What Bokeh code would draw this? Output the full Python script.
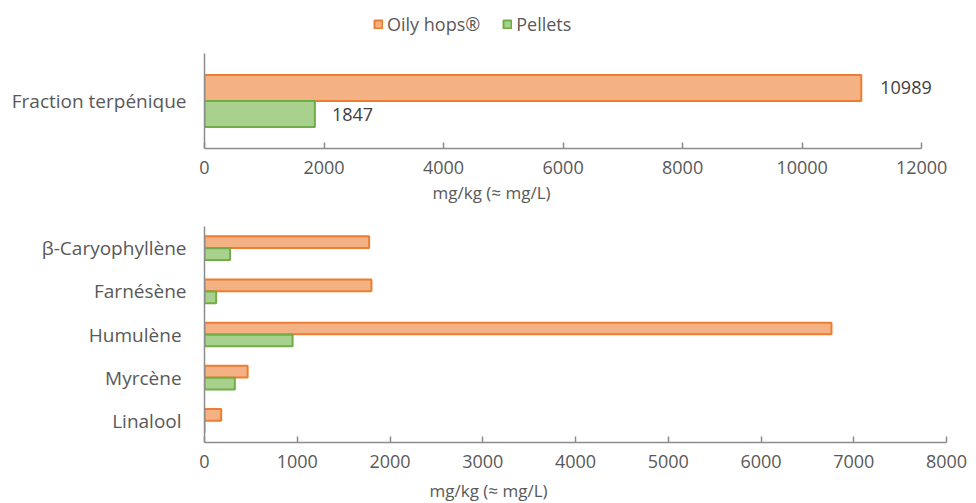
from bokeh.plotting import figure
from bokeh.models import (ColumnDataSource, FactorRange, Range1d, Legend, LegendItem,
                          Title, FixedTicker)
from bokeh.transform import dodge
from bokeh.layouts import column
from bokeh.core.properties import value
from bokeh.embed import file_html
from bokeh.resources import INLINE

# ---------------- data ----------------
series_names = ["Oily hops®", "Pellets"]

top_categories = ["Fraction terpénique"]
top_oily = [10989]
top_pellets = [1847]
top_ticks = [0, 2000, 4000, 6000, 8000, 10000, 12000]

# listed bottom -> top
bottom_categories = ["Linalool ", "Myrcène ", "Humulène ", "Farnésène", "β-Caryophyllène"]
bottom_oily = [180, 465, 6760, 1800, 1775]
bottom_pellets = [0, 327, 950, 126, 276]
bottom_ticks = [0, 1000, 2000, 3000, 4000, 5000, 6000, 7000, 8000]

axis_title = "mg/kg (≈ mg/L)"

# ---------------- style ----------------
FONT = value("Open Sans")
ORANGE_FILL, ORANGE_LINE = "#F4B183", "#ED7D31"
GREEN_FILL, GREEN_LINE = "#A9D18E", "#70AD47"
TXT = "#595959"
AXIS = "#8C8C8C"


def style(p, ticks):
    p.outline_line_color = None
    p.xgrid.visible = False
    p.ygrid.visible = False
    p.background_fill_color = "white"
    p.border_fill_color = "white"
    for ax in (p.xaxis[0], p.yaxis[0]):
        ax.axis_line_color = AXIS
        ax.axis_line_width = 1.5
        ax.major_label_text_font = "Open Sans"
        ax.major_label_text_color = TXT
        ax.minor_tick_line_color = None
    p.xaxis.ticker = FixedTicker(ticks=ticks)
    p.xaxis.bounds = (ticks[0], ticks[-1])
    p.xaxis.major_label_text_font_size = "18px"
    p.xaxis.major_tick_in = 6
    p.xaxis.major_tick_out = 0
    p.xaxis.major_tick_line_color = AXIS
    p.xaxis.major_tick_line_width = 1.5
    p.xaxis.major_label_standoff = 12
    p.yaxis.major_label_text_font_size = "19px"
    p.yaxis.major_tick_line_color = None
    p.yaxis.major_tick_out = 0
    p.yaxis.major_tick_in = 0
    p.yaxis.major_label_standoff = 18


# ---------------- legend strip ----------------
p0 = figure(x_range=Range1d(0, 1), y_range=Range1d(0, 1),
            frame_width=717, frame_height=45,
            min_border_left=204, min_border_right=55, min_border_top=0, min_border_bottom=0,
            x_axis_location=None, y_axis_location=None,
            output_backend="svg", toolbar_location=None)
p0.outline_line_color = None
p0.xgrid.visible = False
p0.ygrid.visible = False
# legend-only proxies, placed outside the visible range
lg_o = p0.hbar(y=[-1], right=[0], left=0, height=0.5,
               fill_color=ORANGE_FILL, line_color=ORANGE_LINE, line_width=2)
lg_p = p0.hbar(y=[-1], right=[0], left=0, height=0.5,
               fill_color=GREEN_FILL, line_color=GREEN_LINE, line_width=2)
legend = Legend(items=[LegendItem(label=series_names[0], renderers=[lg_o]),
                       LegendItem(label=series_names[1], renderers=[lg_p])],
                location=(169, 9), orientation="horizontal", padding=0, margin=0,
                spacing=22, glyph_width=10, glyph_height=10, label_standoff=4,
                border_line_color=None, background_fill_alpha=0,
                label_text_font="Open Sans", label_text_font_size="18px",
                label_text_color=TXT)
p0.add_layout(legend, "center")

# ---------------- top chart ----------------
src_top = ColumnDataSource(dict(cat=top_categories, oily=top_oily, pellets=top_pellets,
                                oily_lbl=[str(v) for v in top_oily],
                                pel_lbl=[str(v) for v in top_pellets]))

# frame extends past 12000 so the value label is not clipped; axis is bounded to 0..12000
p1 = figure(y_range=FactorRange(*top_categories), x_range=Range1d(0, 12800),
            frame_width=765, frame_height=95,
            min_border_left=204, min_border_right=7, min_border_top=8, min_border_bottom=59,
            output_backend="svg", toolbar_location=None)
style(p1, top_ticks)

p1.hbar(y=dodge("cat", 0.137, range=p1.y_range), right="oily", left=0, height=0.274,
        fill_color=ORANGE_FILL, line_color=ORANGE_LINE, line_width=2, source=src_top)
p1.hbar(y=dodge("cat", -0.137, range=p1.y_range), right="pellets", left=0, height=0.274,
        fill_color=GREEN_FILL, line_color=GREEN_LINE, line_width=2, source=src_top)
p1.text(x="oily", y=dodge("cat", 0.137, range=p1.y_range), text="oily_lbl", source=src_top,
        x_offset=19, text_baseline="middle", text_font=FONT, text_font_size="18px",
        text_color="#404040")
p1.text(x="pellets", y=dodge("cat", -0.137, range=p1.y_range), text="pel_lbl", source=src_top,
        x_offset=17, text_baseline="middle", text_font=FONT, text_font_size="18px",
        text_color="#404040")

p1.add_layout(Title(text=axis_title, align="left", offset=228, text_font="Open Sans",
                    text_font_size="17px", text_font_style="normal", text_color=TXT,
                    standoff=5), "below")

# ---------------- bottom chart ----------------
src_bot = ColumnDataSource(dict(cat=bottom_categories, oily=bottom_oily, pellets=bottom_pellets))

p2 = figure(y_range=FactorRange(*bottom_categories), x_range=Range1d(0, 8000),
            frame_width=742, frame_height=216,
            min_border_left=204, min_border_right=30, min_border_top=19, min_border_bottom=61,
            output_backend="svg", toolbar_location=None)
style(p2, bottom_ticks)

p2.hbar(y=dodge("cat", 0.139, range=p2.y_range), right="oily", left=0, height=0.27,
        fill_color=ORANGE_FILL, line_color=ORANGE_LINE, line_width=2, source=src_bot)
p2.hbar(y=dodge("cat", -0.139, range=p2.y_range), right="pellets", left=0, height=0.27,
        fill_color=GREEN_FILL, line_color=GREEN_LINE, line_width=2, source=src_bot)

p2.add_layout(Title(text=axis_title, align="left", offset=225, text_font="Open Sans",
                    text_font_size="17px", text_font_style="normal", text_color=TXT,
                    standoff=12), "below")

layout = column(p0, p1, p2, spacing=0)
open("out.html", "w").write(file_html(layout, INLINE))
